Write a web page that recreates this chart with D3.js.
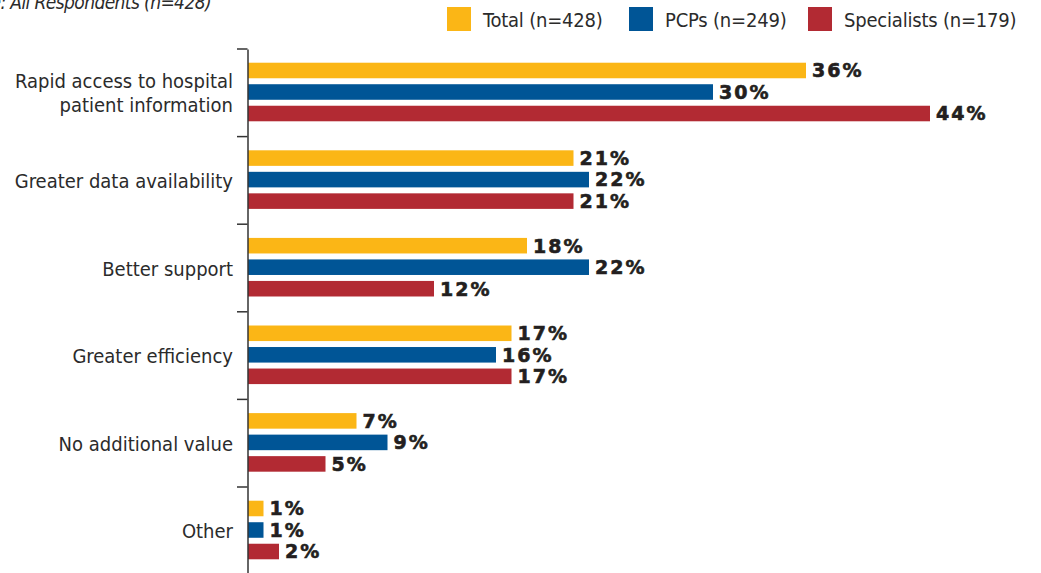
<!DOCTYPE html>
<html>
<head>
<meta charset="utf-8">
<script src="https://cdn.jsdelivr.net/npm/d3@7"></script>
<style>
  body { margin: 0; background: #fff; }
  .cat { font-family: "Liberation Sans Narrow", "DejaVu Sans Condensed", sans-serif; font-size: 20px; fill: #2b2b2b; }
  .val { font-family: "DejaVu Sans", sans-serif; font-weight: bold; font-size: 19px; fill: #231f20; }
</style>
</head>
<body>
<div id="chart"></div>
<script>
// Data
let categories = [
  ["Rapid access to hospital", "patient information"],
  ["Greater data availability"],
  ["Better support"],
  ["Greater efficiency"],
  ["No additional value"],
  ["Other"],
];
let seriesNames = ["Total (n=428)", "PCPs (n=249)", "Specialists (n=179)"];
let totalValues = [36, 21, 18, 17, 7, 1];
let pcpValues = [30, 22, 22, 16, 9, 1];
let specialistValues = [44, 21, 12, 17, 5, 2];
let colors = ["#fbb616", "#005596", "#b22a33"];

let seriesValues = [totalValues, pcpValues, specialistValues];
let catKeys = categories.map((c) => c.join(" "));

let width = 1041,
  height = 573;

let svg = d3
  .select("#chart")
  .append("svg")
  .attr("width", width)
  .attr("height", height);

// Scales
let bandStep = 87.6;
let y = d3
  .scaleBand()
  .domain(catKeys)
  .range([49, 49 + bandStep * catKeys.length]);

let ySub = d3
  .scaleBand()
  .domain(seriesNames)
  .range([7.75, 78.25])
  .padding(0.277);

let x = d3.scaleLinear().domain([0, 44]).range([248, 930]);

// Bars
let rows = [];
catKeys.forEach((c, i) => {
  seriesNames.forEach((s, j) => {
    rows.push({ cat: c, series: s, value: seriesValues[j][i], color: colors[j] });
  });
});

svg
  .selectAll(".bar")
  .data(rows)
  .enter()
  .append("rect")
  .attr("class", "bar")
  .attr("x", x(0))
  .attr("y", (d) => y(d.cat) + ySub(d.series))
  .attr("width", (d) => x(d.value) - x(0))
  .attr("height", ySub.bandwidth())
  .attr("fill", (d) => d.color);

// Value labels
svg
  .selectAll(".val")
  .data(rows)
  .enter()
  .append("text")
  .attr("class", "val")
  .attr("x", (d) => x(d.value) + 6)
  .attr("y", (d) => y(d.cat) + ySub(d.series) + ySub.bandwidth() / 2)
  .attr("dy", "0.36em")
  .style("letter-spacing", "2px")
  .style("stroke", "#231f20")
  .style("stroke-width", 0.6)
  .text((d) => d.value + "%");

// Category axis
let yAxis = svg
  .append("g")
  .attr("transform", "translate(247.5,0)")
  .call(d3.axisLeft(y).tickSize(0).tickSizeOuter(0).tickFormat(""));

yAxis.select(".domain").attr("stroke", "#333").attr("stroke-width", 1.5);

// Boundary ticks
let bounds = d3.range(catKeys.length + 1).map((i) => 49 + i * bandStep);
svg
  .selectAll(".btick")
  .data(bounds)
  .enter()
  .append("line")
  .attr("x1", 237)
  .attr("x2", 247.5)
  .attr("y1", (d) => d)
  .attr("y2", (d) => d)
  .attr("stroke", "#333")
  .attr("stroke-width", 1.5);

// Category labels
categories.forEach((lines, i) => {
  let cy = y(catKeys[i]) + y.bandwidth() / 2;
  let t = svg
    .append("text")
    .attr("class", "cat")
    .attr("text-anchor", "end")
    .attr("x", 233)
    .attr("y", cy - ((lines.length - 1) * 24) / 2 + 7.5);
  lines.forEach((l, k) => {
    t.append("tspan")
      .attr("x", 233)
      .attr("dy", k === 0 ? 0 : 24)
      .text(l);
  });
});

// Subtitle (cut off at top, as in the original)
svg
  .append("text")
  .attr("class", "cat")
  .attr("text-anchor", "end")
  .attr("x", 211)
  .attr("y", 9)
  .style("font-style", "italic")
  .style("font-size", "19px")
  .style("letter-spacing", "-0.6px")
  .text("Base: All Respondents (n=428)");

// Legend
let legendX = [447, 629, 808];
let legend = svg
  .selectAll(".legend")
  .data(seriesNames)
  .enter()
  .append("g")
  .attr("class", "legend")
  .attr("transform", (d, i) => `translate(${legendX[i]},7)`);

legend
  .append("rect")
  .attr("width", 24)
  .attr("height", 24)
  .attr("fill", (d, i) => colors[i]);

legend
  .append("text")
  .attr("class", "cat")
  .attr("x", 36)
  .attr("y", 19.5)
  .style("letter-spacing", "-0.2px")
  .text((d) => d);
</script>
</body>
</html>
